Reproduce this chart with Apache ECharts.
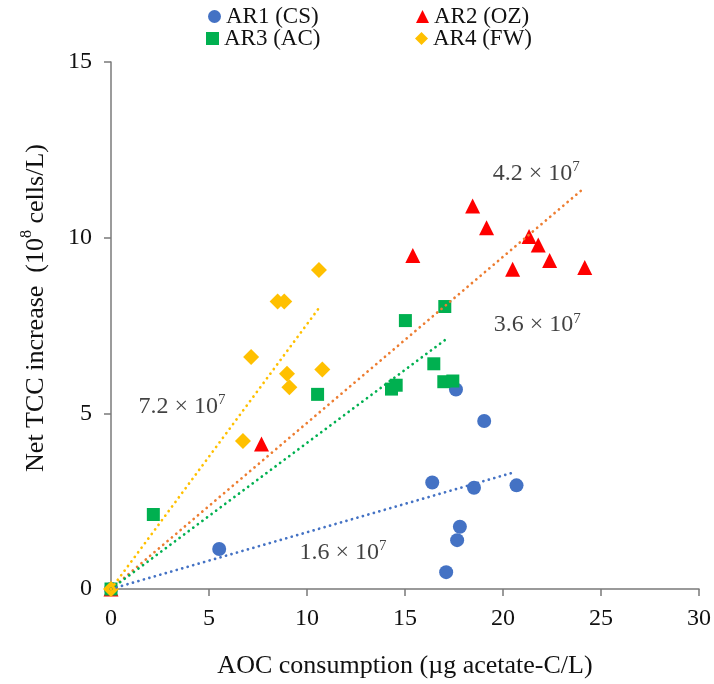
<!DOCTYPE html>
<html>
<head>
<meta charset="utf-8">
<script src="https://cdn.jsdelivr.net/npm/echarts@6/dist/echarts.min.js"></script>
<style>
  html, body { margin: 0; padding: 0; background: #fff; overflow: hidden; }
  #chart { width: 714px; height: 684px; }
</style>
</head>
<body>
<div id="chart"></div>
<script>
// Net total cell count increase vs AOC consumption, four reactors
const seriesNames = ['AR1 (CS)', 'AR2 (OZ)', 'AR3 (AC)', 'AR4 (FW)'];

// [AOC consumption (µg acetate-C/L), net TCC increase (10^8 cells/L)]
const ar1CS = [[0, 0], [5.52, 1.14], [16.39, 3.03], [17.6, 5.68], [19.04, 4.78], [18.52, 2.88],
  [20.69, 2.95], [17.8, 1.77], [17.66, 1.39], [17.1, 0.48]];
const ar2OZ = [[0, 0], [7.68, 4.13], [15.4, 9.49], [18.45, 10.9], [19.16, 10.28], [21.33, 10.03],
  [21.8, 9.79], [22.38, 9.35], [20.49, 9.1], [24.17, 9.15]];
const ar3AC = [[0, 0], [2.16, 2.12], [10.54, 5.54], [14.31, 5.69], [14.55, 5.8], [16.98, 5.9],
  [17.44, 5.92], [16.47, 6.41], [15.02, 7.64], [17.03, 8.04]];
const ar4FW = [[0, 0], [6.73, 4.21], [7.15, 6.6], [8.98, 6.13], [9.1, 5.74], [10.78, 6.25],
  [8.5, 8.18], [8.84, 8.18], [10.61, 9.08]];

// Linear fits through the origin: end point of each fitted line
const trendEnds = [[20.56, 3.32], [24.09, 11.39], [17.24, 7.17], [10.68, 8.05]];

// Yield annotations: mantissa, exponent, anchor position in data units
const yieldMantissa = ['1.6', '4.2', '3.6', '7.2'];
const yieldExponent = ['7', '7', '7', '7'];
const yieldAnchors = [[11.84, 1.06], [21.7, 11.86], [21.75, 7.54], [3.62, 5.23]];

const xTicks = [0, 5, 10, 15, 20, 25, 30];
const yTicks = [0, 5, 10, 15];

const FONT = '"Liberation Serif", "Times New Roman", serif';
const markerColors = ['#4472C4', '#FF0000', '#00B050', '#FFC000'];
const trendColors = ['#4472C4', '#ED7D31', '#00B050', '#FFC000'];
const symbols = ['circle', 'triangle', 'rect', 'diamond'];
const symbolSizes = [14, 15, 13, 16];
const pointSets = [ar1CS, ar2OZ, ar3AC, ar4FW];

const el = document.getElementById('chart');
const chart = echarts.init(el, null, { renderer: 'canvas', width: 714, height: 684 });

const scatterSeries = pointSets.map((pts, i) => ({
  name: seriesNames[i],
  type: 'scatter',
  data: pts,
  symbol: symbols[i],
  symbolSize: symbolSizes[i],
  itemStyle: { color: markerColors[i], opacity: 1 },
  z: 3,
  emphasis: { disabled: true }
}));

// Dotted fit lines drawn above the markers
const trendSeries = trendEnds.map((end, i) => ({
  name: 'fit' + i,
  type: 'line',
  data: [[0, 0], end],
  showSymbol: false,
  symbol: 'none',
  silent: true,
  lineStyle: { color: trendColors[i], width: 2.7, type: [0.1, 5.6], cap: 'round' },
  z: 4
}));

const annotationSeries = {
  name: 'yields',
  type: 'scatter',
  silent: true,
  symbolSize: 0,
  z: 5,
  data: yieldAnchors.map((p, i) => ({ value: p, m: yieldMantissa[i], e: yieldExponent[i] })),
  label: {
    show: true,
    position: 'inside',
    formatter: (p) => '{b|' + p.data.m + ' \u00D7 10}{s|' + p.data.e + '}',
    rich: {
      b: { fontFamily: FONT, fontSize: 24, color: '#111', lineHeight: 26, verticalAlign: 'bottom' },
      s: { fontFamily: FONT, fontSize: 15, color: '#111', lineHeight: 26, verticalAlign: 'top', padding: [0, 0, 10, 0] }
    }
  }
};

const legendPos = [[208, 5], [416, 5], [206, 27], [415, 27]];
const legends = seriesNames.map((n, i) => ({
  data: [{ name: n, icon: symbols[i] }],
  left: legendPos[i][0],
  top: legendPos[i][1],
  padding: 0,
  itemWidth: 13,
  itemHeight: 13,
  itemGap: 0,
  selectedMode: false,
  textStyle: { fontFamily: FONT, fontSize: 23, color: '#111', padding: [0, 0, 0, 0] }
}));

const option = {
  animation: false,
  backgroundColor: '#fff',
  legend: legends,
  grid: { left: 111, right: 14, top: 62, bottom: 83, containLabel: false },
  xAxis: {
    type: 'value',
    min: xTicks[0],
    max: xTicks[xTicks.length - 1],
    interval: 5,
    name: 'AOC consumption (\u00B5g acetate-C/L)',
    nameLocation: 'middle',
    nameGap: 64,
    nameTextStyle: { fontFamily: FONT, fontSize: 26, color: '#111' },
    axisLine: { show: true, lineStyle: { color: '#7a7a7a', width: 1.5 } },
    axisTick: { show: true, inside: false, length: 7, lineStyle: { color: '#7a7a7a', width: 1.5 } },
    axisLabel: { fontFamily: FONT, fontSize: 24, color: '#111', margin: 18 },
    splitLine: { show: false }
  },
  yAxis: {
    type: 'value',
    min: yTicks[0],
    max: yTicks[yTicks.length - 1],
    interval: 5,
    axisLine: { show: true, lineStyle: { color: '#7a7a7a', width: 1.5 } },
    axisTick: { show: true, inside: false, length: 7, lineStyle: { color: '#7a7a7a', width: 1.5 } },
    axisLabel: { fontFamily: FONT, fontSize: 24, color: '#111', margin: 19 },
    splitLine: { show: false }
  },
  graphic: [{
    type: 'text',
    x: 34,
    y: 308,
    rotation: Math.PI / 2,
    style: {
      text: '{t|Net TCC increase  (10}{s|8}{t| cells/L)}',
      align: 'center',
      verticalAlign: 'middle',
      rich: {
        t: { fontFamily: FONT, fontSize: 26, fill: '#111', lineHeight: 30, verticalAlign: 'bottom' },
        s: { fontFamily: FONT, fontSize: 16, fill: '#111', lineHeight: 30, verticalAlign: 'top', padding: [0, 0, 10, 0] }
      }
    }
  }],
  series: [...scatterSeries, ...trendSeries, annotationSeries]
};

chart.setOption(option);
</script>
</body>
</html>
